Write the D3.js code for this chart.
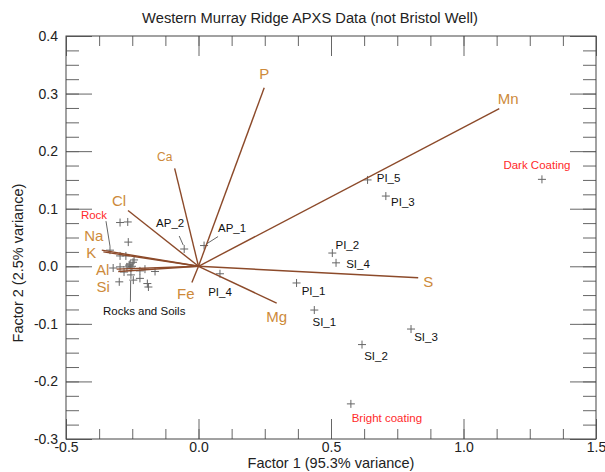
<!DOCTYPE html>
<html>
<head>
<meta charset="utf-8">
<script src="https://cdn.jsdelivr.net/npm/d3@7"></script>
<style>
  body { margin: 0; background: #fff; }
  svg { display: block; font-family: "Liberation Sans", Arial, sans-serif; }
</style>
</head>
<body>
<div id="container"></div>
<script>
// --- DATA ---
// factor loadings (element vectors)
var vectorNames = ["P", "Mn", "Ca", "Cl", "Na", "K", "Al", "Si", "Fe", "Mg", "S"];
var vectorF1 = [0.248, 1.135, -0.090, -0.266, -0.365, -0.359, -0.309, -0.303, -0.025, 0.295, 0.829];
var vectorF2 = [0.310, 0.274, 0.170, 0.097, 0.028, 0.025, -0.005, -0.009, -0.028, -0.064, -0.020];

// labelled targets
var sampleNames = ["PI_1", "PI_2", "PI_3", "PI_4", "PI_5", "SI_1", "SI_2", "SI_3", "SI_4",
    "AP_1", "AP_2", "Dark Coating", "Bright coating", "Rock"];
var sampleF1 = [0.370, 0.505, 0.707, 0.081, 0.638, 0.437, 0.617, 0.802, 0.519,
    0.021, -0.054, 1.296, 0.575, -0.334];
var sampleF2 = [-0.029, 0.023, 0.122, -0.013, 0.150, -0.076, -0.136, -0.109, 0.006,
    0.036, 0.030, 0.151, -0.239, 0.028];

// unlabelled rocks and soils cluster
var rockF1 = [-0.296, -0.267, -0.265, -0.296, -0.274, -0.243, -0.322, -0.296, -0.270, -0.251,
    -0.247, -0.255, -0.258, -0.221, -0.202, -0.164, -0.299, -0.246, -0.221, -0.193,
    -0.189, -0.281, -0.255, -0.262];
var rockF2 = [0.076, 0.077, 0.042, 0.018, 0.018, 0.011, -0.003, -0.001, -0.001, 0.000,
    0.007, -0.003, 0.004, -0.008, -0.005, -0.009, -0.027, -0.024, -0.021, -0.030,
    -0.036, -0.010, -0.015, 0.002];

var xTicks = [-0.5, 0.0, 0.5, 1.0, 1.5];
var yTicks = [-0.3, -0.2, -0.1, 0.0, 0.1, 0.2, 0.3, 0.4];

var title = "Western Murray Ridge APXS Data (not Bristol Well)";
var xTitle = "Factor 1 (95.3% variance)";
var yTitle = "Factor 2 (2.5% variance)";

// --- LAYOUT (pixel offsets of labels) ---
var vectorLabelOffset = {
    P: [0, -14], Mn: [9, -10], Ca: [-10, -12], Cl: [-9, -10], Na: [-8, -14], K: [-12, 1],
    Al: [-14, 1], Si: [-15, 15], Fe: [-6, 11], Mg: [0, 14], S: [10, 4]
};
var sampleLabelOffset = {
    "PI_1": [17, 8], "PI_2": [15, -8], "PI_3": [17, 6], "PI_4": [0, 18], "PI_5": [21, -2],
    "SI_1": [10, 12], "SI_2": [14, 11], "SI_3": [15, 8], "SI_4": [22, 1],
    "AP_1": [28, -18], "AP_2": [-14, -26], "Dark Coating": [-5, -14],
    "Bright coating": [36, 14], "Rock": [-16, -35]
};
// leader lines: [x1, y1, x2, y2] relative to the point
var leaders = {
    "AP_1": [14, -9, 3, -2], "AP_2": [-5, -13, -1, -4], "Rock": [-4, -29, 0, -4]
};
var redLabels = ["Dark Coating", "Bright coating", "Rock"];

var svgWidth = 605, svgHeight = 472;
var margin = { top: 36, right: 9, bottom: 33, left: 66 };

var svg = d3.select("div#container")
    .append("svg")
    .attr("width", svgWidth)
    .attr("height", svgHeight);

var x = d3.scaleLinear().domain([-0.5, 1.5]).range([margin.left, svgWidth - margin.right]);
var y = d3.scaleLinear().domain([-0.3, 0.4]).range([svgHeight - margin.bottom, margin.top]);

var fmt = function (d) { return d.toFixed(1); };
var tickColor = "#666";

// minor ticks
var xMinor = d3.range(-0.5, 1.5001, 0.125);
var yMinor = d3.range(-0.3, 0.4001, 0.025);

function styleAxis(g) {
    g.select(".domain").remove();
    g.selectAll(".tick line").attr("stroke", tickColor);
    g.selectAll(".tick text").attr("fill", "#222").style("font-size", "14px");
}

// bottom
svg.append("g").attr("transform", "translate(0," + y.range()[0] + ")")
    .call(d3.axisBottom(x).tickValues(xMinor).tickSize(-10).tickFormat(""))
    .call(styleAxis);
svg.append("g").attr("transform", "translate(0," + y.range()[0] + ")")
    .call(d3.axisBottom(x).tickValues(xTicks).tickSize(-20).tickPadding(3).tickFormat(fmt))
    .call(styleAxis);
// top
svg.append("g").attr("transform", "translate(0," + y.range()[1] + ")")
    .call(d3.axisTop(x).tickValues(xMinor).tickSize(-10).tickFormat(""))
    .call(styleAxis);
svg.append("g").attr("transform", "translate(0," + y.range()[1] + ")")
    .call(d3.axisTop(x).tickValues(xTicks).tickSize(-20).tickFormat(""))
    .call(styleAxis);
// left
svg.append("g").attr("transform", "translate(" + x.range()[0] + ",0)")
    .call(d3.axisLeft(y).tickValues(yMinor).tickSize(-13).tickFormat(""))
    .call(styleAxis);
svg.append("g").attr("transform", "translate(" + x.range()[0] + ",0)")
    .call(d3.axisLeft(y).tickValues(yTicks).tickSize(-26).tickPadding(8).tickFormat(fmt))
    .call(styleAxis);
// right
svg.append("g").attr("transform", "translate(" + x.range()[1] + ",0)")
    .call(d3.axisRight(y).tickValues(yMinor).tickSize(-13).tickFormat(""))
    .call(styleAxis);
svg.append("g").attr("transform", "translate(" + x.range()[1] + ",0)")
    .call(d3.axisRight(y).tickValues(yTicks).tickSize(-26).tickFormat(""))
    .call(styleAxis);

// frame
svg.append("rect")
    .attr("x", x.range()[0])
    .attr("y", y.range()[1])
    .attr("width", x.range()[1] - x.range()[0])
    .attr("height", y.range()[0] - y.range()[1])
    .attr("fill", "none")
    .attr("stroke", "#444")
    .attr("stroke-width", 1);

// titles
svg.append("text")
    .attr("x", 310).attr("y", 23)
    .attr("text-anchor", "middle")
    .style("font-size", "14.7px").attr("fill", "#222")
    .text(title);
svg.append("text")
    .attr("x", 331).attr("y", 468)
    .attr("text-anchor", "middle")
    .style("font-size", "14.5px").attr("fill", "#222")
    .text(xTitle);
svg.append("text")
    .attr("transform", "translate(23,263) rotate(-90)")
    .attr("text-anchor", "middle")
    .style("font-size", "14.5px").attr("fill", "#222")
    .text(yTitle);

// crosses
function cross(g, cx, cy) {
    var s = 4;
    g.append("path")
        .attr("d", "M" + (cx - s) + "," + cy + "H" + (cx + s) + "M" + cx + "," + (cy - s) + "V" + (cy + s))
        .attr("stroke", tickColor)
        .attr("stroke-width", 1)
        .attr("fill", "none");
}

var pts = svg.append("g");
rockF1.forEach(function (v, i) { cross(pts, x(v), y(rockF2[i])); });
sampleNames.forEach(function (n, i) { cross(pts, x(sampleF1[i]), y(sampleF2[i])); });

// vectors
var vec = svg.append("g");
vectorNames.forEach(function (n, i) {
    vec.append("line")
        .attr("x1", x(0)).attr("y1", y(0))
        .attr("x2", x(vectorF1[i])).attr("y2", y(vectorF2[i]))
        .attr("stroke", "#8c4a2a")
        .attr("stroke-width", 1.4);
});
vectorNames.forEach(function (n, i) {
    var off = vectorLabelOffset[n];
    vec.append("text")
        .attr("x", x(vectorF1[i]) + off[0])
        .attr("y", y(vectorF2[i]) + off[1])
        .attr("dy", "0.35em")
        .attr("text-anchor", "middle")
        .attr("fill", "#cd8a3a")
        .style("font-size", n === "Ca" ? "12px" : "15px")
        .text(n);
});

// sample labels
sampleNames.forEach(function (n, i) {
    var px = x(sampleF1[i]), py = y(sampleF2[i]);
    var off = sampleLabelOffset[n];
    svg.append("text")
        .attr("x", px + off[0])
        .attr("y", py + off[1])
        .attr("dy", "0.35em")
        .attr("text-anchor", "middle")
        .attr("fill", redLabels.indexOf(n) >= 0 ? "#ff2a2a" : "#111")
        .style("font-size", "11.5px")
        .text(n);
    if (leaders[n]) {
        var l = leaders[n];
        svg.append("line")
            .attr("x1", px + l[0]).attr("y1", py + l[1])
            .attr("x2", px + l[2]).attr("y2", py + l[3])
            .attr("stroke", tickColor).attr("stroke-width", 1);
    }
});

// rocks and soils label with leader
var rsX = x(-0.205), rsY = y(-0.078);
svg.append("text")
    .attr("x", rsX).attr("y", rsY)
    .attr("dy", "0.35em")
    .attr("text-anchor", "middle")
    .attr("fill", "#111")
    .style("font-size", "11.5px")
    .text("Rocks and Soils");
svg.append("line")
    .attr("x1", x(-0.257)).attr("y1", y(-0.062))
    .attr("x2", x(-0.256)).attr("y2", y(-0.025))
    .attr("stroke", tickColor).attr("stroke-width", 1);
</script>
</body>
</html>
